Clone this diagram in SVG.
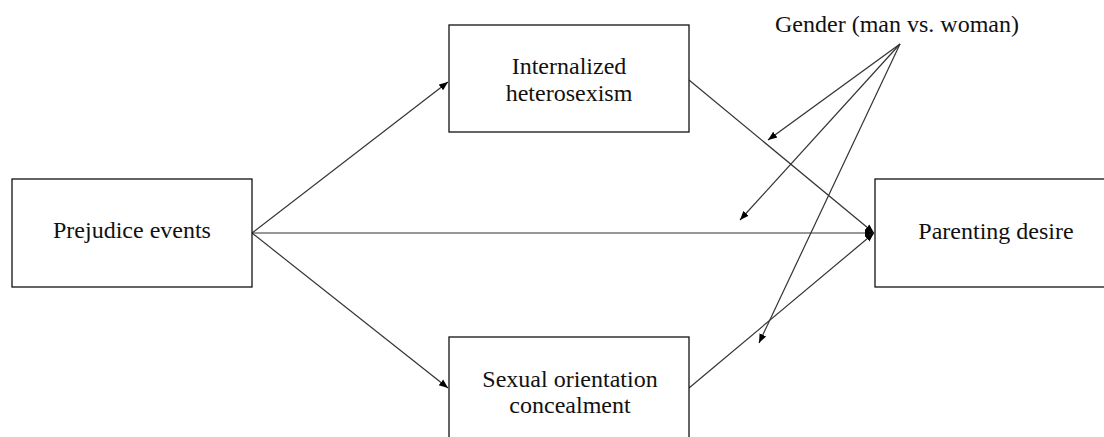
<svg xmlns="http://www.w3.org/2000/svg" width="1104" height="437" viewBox="0 0 1104 437">
<defs>
<style>
.box{fill:#fff;stroke:#111;stroke-width:1.3}
.lbl{font-family:"Liberation Serif","Times New Roman",serif;font-size:24px;fill:#111;text-anchor:middle}
.c{stroke:#333;stroke-width:1.2;fill:none;marker-end:url(#ah)}
</style>
<marker id="ah" viewBox="0 0 10 10" refX="10" refY="5" markerWidth="9" markerHeight="9" markerUnits="userSpaceOnUse" orient="auto">
<path d="M0,1 L10,5 L0,9 Z" fill="#000"/>
</marker>
</defs>
<rect width="1104" height="437" fill="#fff"/>
<g id="connectors">
<line class="c" x1="252" y1="233" x2="448" y2="82"/>
<line class="c" x1="252" y1="233" x2="448" y2="388"/>
<line class="c" x1="252" y1="233" x2="874" y2="233"/>
<line class="c" x1="689" y1="80" x2="874" y2="233"/>
<line class="c" x1="689" y1="388" x2="874" y2="233"/>
<line class="c" x1="900" y1="44" x2="768" y2="140"/>
<line class="c" x1="900" y1="44" x2="740" y2="220"/>
<line class="c" x1="900" y1="44" x2="759" y2="343"/>
</g>
<g id="prejudice">
<rect class="box" x="12" y="179" width="240" height="108"/>
<text class="lbl" x="132" y="238">Prejudice events</text>
</g>
<g id="internalized">
<rect class="box" x="449" y="25" width="240" height="107"/>
<text class="lbl" x="569" y="74">Internalized</text>
<text class="lbl" x="569" y="101">heterosexism</text>
</g>
<g id="concealment">
<rect class="box" x="449" y="337" width="240" height="110"/>
<text class="lbl" x="570" y="387">Sexual orientation</text>
<text class="lbl" x="570" y="413">concealment</text>
</g>
<g id="parenting">
<rect class="box" x="875" y="179" width="240" height="108"/>
<text class="lbl" x="996" y="239">Parenting desire</text>
</g>
<g id="gender">
<text class="lbl" x="897" y="32">Gender (man vs. woman)</text>
</g>
</svg>
